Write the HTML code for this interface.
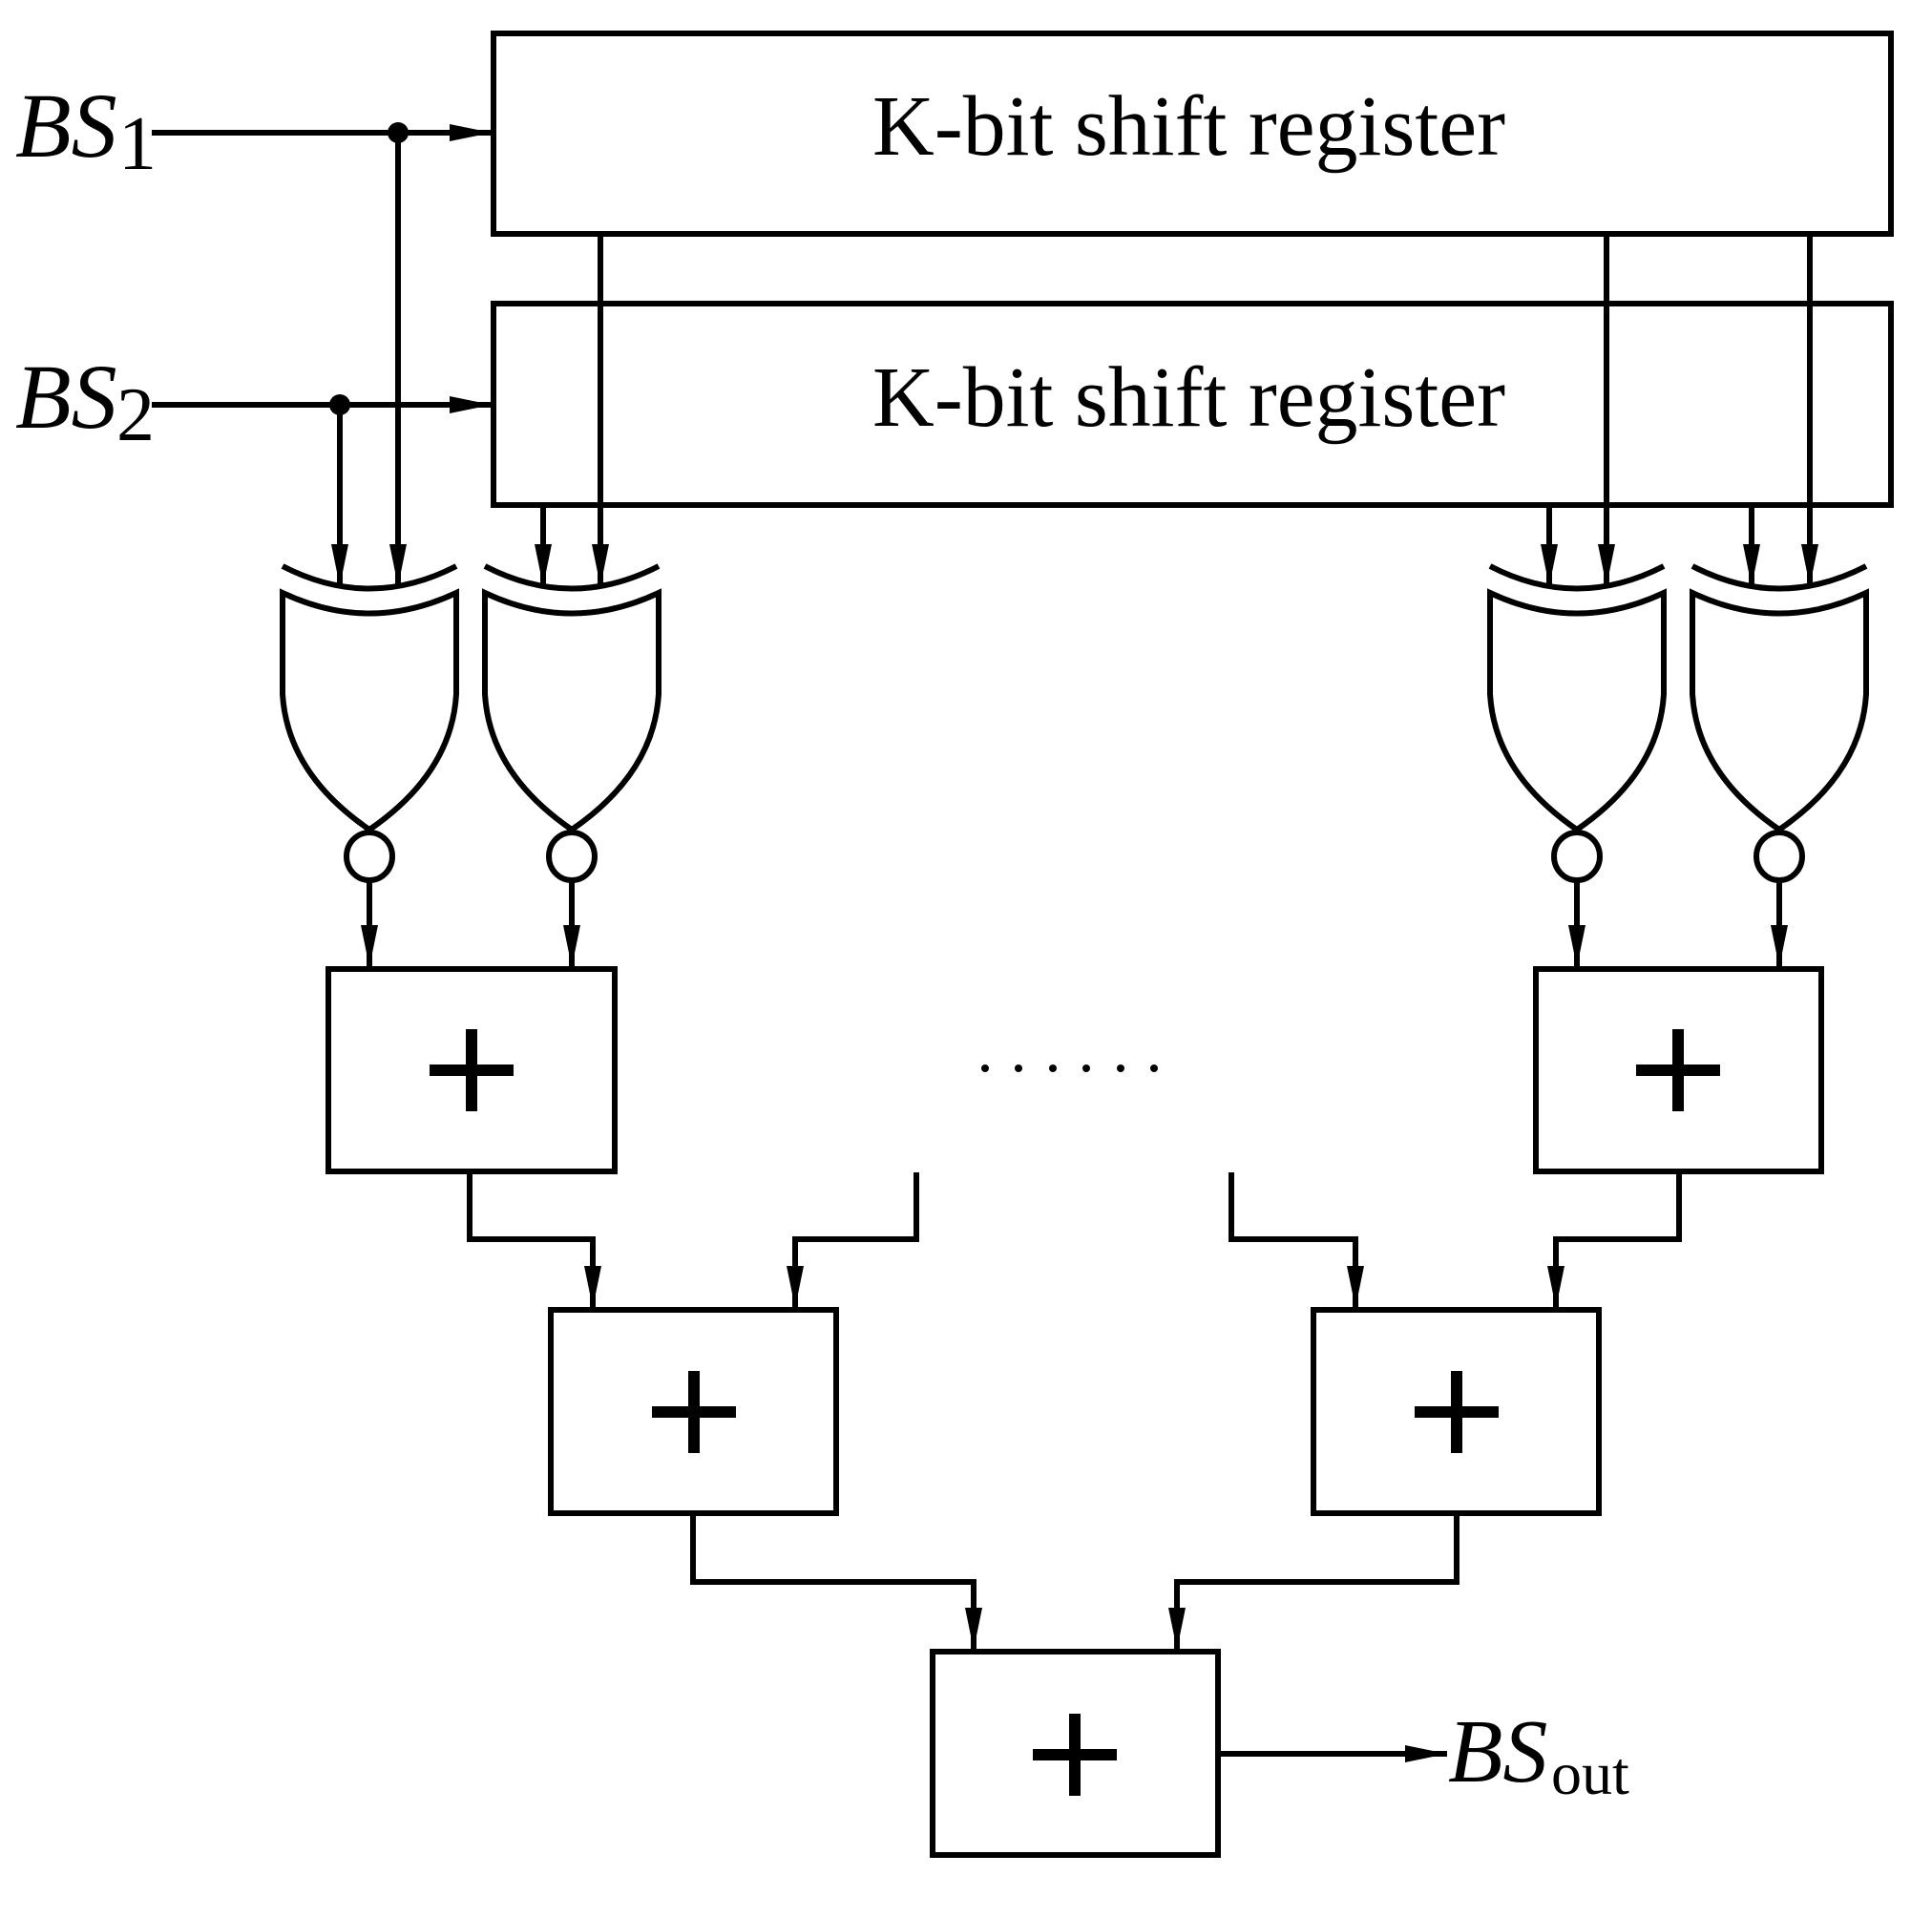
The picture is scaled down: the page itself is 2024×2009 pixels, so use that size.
<!DOCTYPE html>
<html><head><meta charset="utf-8"><style>html,body{margin:0;padding:0;background:#fff}svg{display:block}</style></head>
<body>
<svg width="2024" height="2009" viewBox="0 0 2024 2009" xmlns="http://www.w3.org/2000/svg">
<defs>
<marker id="a" markerUnits="userSpaceOnUse" markerWidth="46" markerHeight="24" refX="44" refY="12" orient="auto">
<path d="M0,3 L44,12 L0,21 Z" fill="#000"/>
</marker>
<g id="g">
<path d="M-91,593 Q0,640 91,593"/>
<path d="M-91,621 Q0,664 91,621 L91,727 Q86,810 0,869 Q-86,810 -91,727 Z"/>
<ellipse cx="0" cy="897" rx="24" ry="25"/>
<line x1="0" y1="922" x2="0" y2="1013" marker-end="url(#a)"/>
</g>
</defs>
<g fill="none" stroke="#000" stroke-width="6">
<rect x="517" y="35" width="1464" height="210"/>
<rect x="517" y="318" width="1464" height="211"/>
<line x1="159" y1="139" x2="515" y2="139" marker-end="url(#a)"/>
<line x1="159" y1="424" x2="515" y2="424" marker-end="url(#a)"/>
<line x1="417" y1="139" x2="417" y2="614" marker-end="url(#a)"/>
<line x1="356" y1="424" x2="356" y2="614" marker-end="url(#a)"/>
<line x1="629" y1="245" x2="629" y2="614" marker-end="url(#a)"/>
<line x1="569" y1="529" x2="569" y2="614" marker-end="url(#a)"/>
<line x1="1683" y1="245" x2="1683" y2="614" marker-end="url(#a)"/>
<line x1="1623" y1="529" x2="1623" y2="614" marker-end="url(#a)"/>
<line x1="1896" y1="245" x2="1896" y2="614" marker-end="url(#a)"/>
<line x1="1835" y1="529" x2="1835" y2="614" marker-end="url(#a)"/>
<use href="#g" transform="translate(387,0)"/>
<use href="#g" transform="translate(599,0)"/>
<use href="#g" transform="translate(1652,0)"/>
<use href="#g" transform="translate(1864,0)"/>
<rect x="344" y="1015" width="300" height="212"/>
<rect x="1609" y="1015" width="299" height="212"/>
<rect x="577" y="1372" width="299" height="213"/>
<rect x="1376" y="1372" width="299" height="213"/>
<rect x="977" y="1730" width="299" height="213"/>
<polyline points="492,1227 492,1298 621,1298 621,1370" marker-end="url(#a)"/>
<polyline points="960,1228 960,1298 833,1298 833,1370" marker-end="url(#a)"/>
<polyline points="1290,1228 1290,1298 1420,1298 1420,1370" marker-end="url(#a)"/>
<polyline points="1759,1227 1759,1298 1630,1298 1630,1370" marker-end="url(#a)"/>
<polyline points="726,1585 726,1657 1020,1657 1020,1728" marker-end="url(#a)"/>
<polyline points="1526,1585 1526,1657 1233,1657 1233,1728" marker-end="url(#a)"/>
<line x1="1276" y1="1837" x2="1516" y2="1837" marker-end="url(#a)"/>
</g>
<g fill="#000">
<circle cx="417" cy="139" r="11"/>
<circle cx="356" cy="424" r="11"/>
<circle cx="1032" cy="1119" r="4"/><circle cx="1067" cy="1119" r="4"/><circle cx="1103" cy="1119" r="4"/><circle cx="1138" cy="1119" r="4"/><circle cx="1174" cy="1119" r="4"/><circle cx="1209" cy="1119" r="4"/>
</g>
<g stroke="#000" stroke-width="12" fill="none">
<path d="M450,1121 h88 M494,1078 v86"/>
<path d="M1714,1121 h88 M1758,1078 v86"/>
<path d="M683,1479 h88 M727,1436 v86"/>
<path d="M1482,1479 h88 M1526,1436 v86"/>
<path d="M1082,1838 h88 M1126,1795 v86"/>
</g>
<g font-family="Liberation Serif, serif" fill="#000">
<text x="914" y="162" font-size="90" textLength="663" lengthAdjust="spacingAndGlyphs">K-bit shift register</text>
<text x="914" y="446" font-size="90" textLength="663" lengthAdjust="spacingAndGlyphs">K-bit shift register</text>
<text x="16" y="164" font-size="96" font-style="italic">BS</text>
<text x="124" y="177" font-size="80">1</text>
<text x="16" y="448" font-size="96" font-style="italic">BS</text>
<text x="122" y="461" font-size="80">2</text>
<text x="1517" y="1866" font-size="94" font-style="italic">BS</text>
<text x="1625" y="1879" font-size="64">out</text>
</g>
</svg>
</body></html>
